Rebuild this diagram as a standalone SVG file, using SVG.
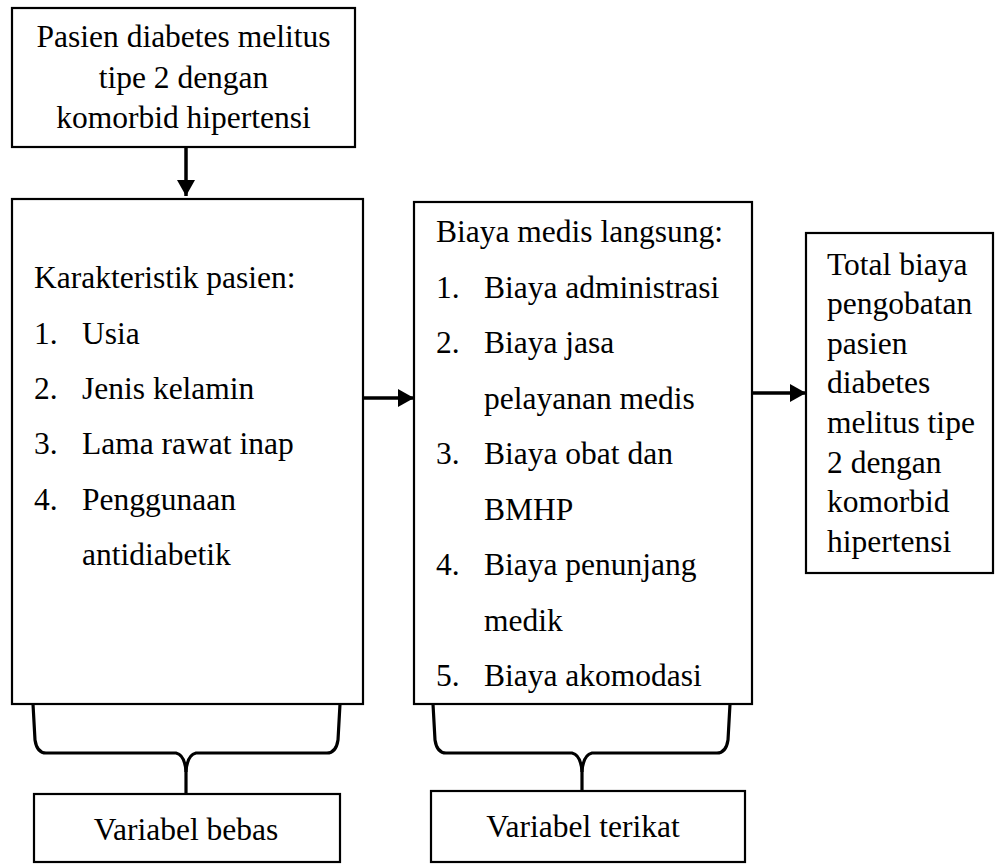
<svg xmlns="http://www.w3.org/2000/svg" width="996" height="864" viewBox="0 0 996 864">
  <style>
    .box { fill: #ffffff; stroke: #000000; stroke-width: 2.2; }
    .t { font-family: "Liberation Serif", "Times New Roman", serif; font-size: 31.5px; fill: #000000; }
    .c { text-anchor: middle; }
    .conn { stroke: #000000; stroke-width: 3.5; fill: none; }
    .brace { stroke: #000000; stroke-width: 3.2; fill: none; stroke-linejoin: round; }
  </style>
  <defs>
    <marker id="ah" markerUnits="userSpaceOnUse" markerWidth="16" markerHeight="18" refX="16" refY="9" orient="auto">
      <path d="M0,0 L16,9 L0,18 z" fill="#000000"/>
    </marker>
  </defs>
  <rect width="996" height="864" fill="#ffffff"/>

  <g id="node-pasien">
    <rect class="box" x="12" y="8" width="343" height="139"/>
    <text class="t c" x="183.5" y="47">Pasien diabetes melitus</text>
    <text class="t c" x="183.5" y="88">tipe 2 dengan</text>
    <text class="t c" x="183.5" y="128">komorbid hipertensi</text>
  </g>

  <g id="node-karakteristik">
    <rect class="box" x="12" y="199" width="351" height="505"/>
    <text class="t" x="34" y="288">Karakteristik pasien:</text>
    <text class="t" x="34" y="343.5">1.</text><text class="t" x="82" y="343.5">Usia</text>
    <text class="t" x="34" y="399">2.</text><text class="t" x="82" y="399">Jenis kelamin</text>
    <text class="t" x="34" y="454">3.</text><text class="t" x="82" y="454">Lama rawat inap</text>
    <text class="t" x="34" y="510">4.</text><text class="t" x="82" y="510">Penggunaan</text>
    <text class="t" x="82" y="565">antidiabetik</text>
  </g>

  <g id="node-biaya">
    <rect class="box" x="414" y="202" width="338" height="502"/>
    <text class="t" x="436" y="242">Biaya medis langsung:</text>
    <text class="t" x="436" y="297.5">1.</text><text class="t" x="484" y="297.5">Biaya administrasi</text>
    <text class="t" x="436" y="353">2.</text><text class="t" x="484" y="353">Biaya jasa</text>
    <text class="t" x="484" y="408.5">pelayanan medis</text>
    <text class="t" x="436" y="464">3.</text><text class="t" x="484" y="464">Biaya obat dan</text>
    <text class="t" x="484" y="519.5">BMHP</text>
    <text class="t" x="436" y="575">4.</text><text class="t" x="484" y="575">Biaya penunjang</text>
    <text class="t" x="484" y="630.5">medik</text>
    <text class="t" x="436" y="686">5.</text><text class="t" x="484" y="686">Biaya akomodasi</text>
  </g>

  <g id="node-total">
    <rect class="box" x="806" y="233" width="187" height="340"/>
    <text class="t" x="827" y="275">Total biaya</text>
    <text class="t" x="827" y="314">pengobatan</text>
    <text class="t" x="827" y="353.5">pasien</text>
    <text class="t" x="827" y="393">diabetes</text>
    <text class="t" x="827" y="433">melitus tipe</text>
    <text class="t" x="827" y="472.5">2 dengan</text>
    <text class="t" x="827" y="512">komorbid</text>
    <text class="t" x="827" y="552">hipertensi</text>
  </g>

  <g id="node-variabel-bebas">
    <rect class="box" x="34" y="794" width="306" height="68"/>
    <text class="t c" x="186" y="840">Variabel bebas</text>
  </g>

  <g id="node-variabel-terikat">
    <rect class="box" x="431" y="791" width="314" height="71"/>
    <text class="t c" x="583" y="837">Variabel terikat</text>
  </g>

  <g id="connectors">
    <line class="conn" x1="186" y1="147" x2="186" y2="196" marker-end="url(#ah)"/>
    <line class="conn" x1="362" y1="398" x2="414" y2="398" marker-end="url(#ah)"/>
    <line class="conn" x1="751" y1="393" x2="806" y2="393" marker-end="url(#ah)"/>
    <path class="brace" d="M33,704 L35,740 Q37,753 46,753 L176,753 Q185,755 186,772 L186,794"/>
    <path class="brace" d="M340,704 L338,740 Q336,753 327,753 L196,753 Q187,755 186,772"/>
    <path class="brace" d="M433,704 L435,740 Q437,753 446,753 L572,753 Q581,755 582,772 L582,791"/>
    <path class="brace" d="M730,704 L728,740 Q726,753 717,753 L592,753 Q583,755 582,772"/>
  </g>
</svg>
